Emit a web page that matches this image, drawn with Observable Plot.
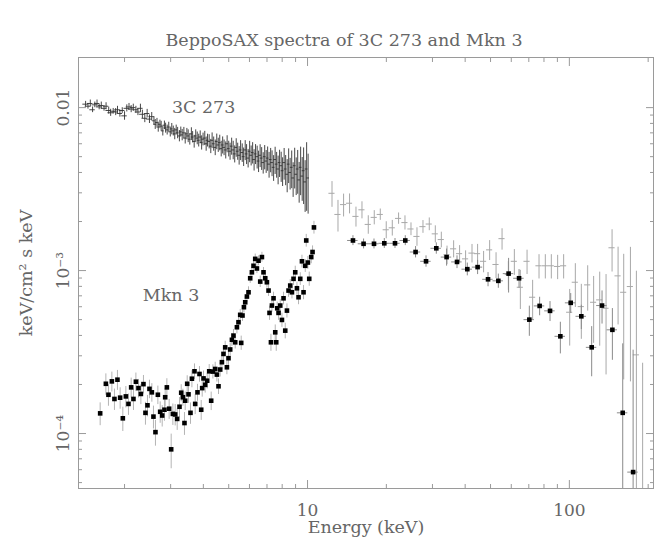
<!DOCTYPE html>
<html><head><meta charset="utf-8">
<script src="https://cdn.jsdelivr.net/npm/d3@7"></script>
<script src="https://cdn.jsdelivr.net/npm/@observablehq/plot@0.6"></script>
<style>
html,body{margin:0;padding:0;background:#fff;}
#chart svg{display:block;}
</style></head><body><div id="chart"></div>
<script>
// ---- text ----
const titleText = "BeppoSAX spectra of 3C 273 and Mkn 3";
const xLabel = "Energy (keV)";
const yLabel = "keV/cm² s keV";
const seriesLabels = ["3C 273", "Mkn 3"];
const seriesLabelE = [4.01, 3.01];
const seriesLabelF = [0.0101, 7.0e-4];

// ---- axes ----
const xRange = [1.334, 209.6];
const yRange = [4.6e-5, 0.0203];
const xMajor = [10, 100];
const xMajorLabels = ["10", "100"];
const xMinor = [2,3,4,5,6,7,8,9,20,30,40,50,60,70,80,90,200];
const yMajor = [1e-4, 1e-3, 1e-2];
const yMajorLabels = ["10⁻⁴", "10⁻³", "0.01"];
const yMinor = [5e-5,6e-5,7e-5,8e-5,9e-5,2e-4,3e-4,4e-4,5e-4,6e-4,7e-4,8e-4,9e-4,2e-3,3e-3,4e-3,5e-3,6e-3,7e-3,8e-3,9e-3];

// ---- 3C 273, low-energy dense part (keV, flux in 1e-3, error %) ----
const c273LowE = [1.42,1.45,1.48,1.51,1.54,1.57,1.60,1.63,1.67,1.70,1.74,1.77,1.81,1.85,1.88,1.92,1.96,2.00,2.04,2.08,2.12,2.16,2.21,2.25,2.30,2.34,2.39,2.44,2.49,2.54];
const c273LowF = [10.5,10.2,10.6,9.7,10.4,10.6,10.1,10.3,9.9,10.2,9.6,9.3,9.5,9.4,9.7,9.2,9.6,8.9,9.9,10.1,9.8,10.0,9.7,9.4,9.9,9.1,8.6,9.2,8.5,8.8];
const c273LowErr = [4,4,5,4,4,5,4,5,4,5,5,5,4,5,5,5,4,6,5,5,5,5,5,5,6,6,6,6,6,6];

const c273MidE = [2.59,2.62,2.66,2.69,2.73,2.76,2.80,2.84,2.87,2.91,
 2.95,2.99,3.03,3.07,3.11,3.15,3.19,3.24,3.28,3.32,
 3.37,3.41,3.46,3.50,3.55,3.60,3.64,3.69,3.74,3.79,
 3.84,3.89,3.94,3.99,4.05,4.10,4.15,4.21,4.27,4.32,
 4.38,4.44,4.50,4.56,4.62,4.68,4.74,4.80,4.87,4.93,
 5.00,5.06,5.13,5.20,5.27,5.34,5.41,5.48,5.55,5.63,
 5.70,5.78,5.85,5.93,6.01,6.09,6.17,6.25,6.33,6.42,
 6.50,6.59,6.68,6.77,6.86,6.95,7.04,7.13,7.23,7.32,
 7.42,7.52,7.62,7.72,7.82,7.93,8.03,8.14,8.25,8.36,
 8.47,8.58,8.70,8.81,8.93,9.05,9.17,9.29,9.41,9.54,
 9.66,9.79,9.92,10.05];
const c273MidF = [8.3,7.9,8.1,7.6,7.9,7.7,7.2,7.8,7.5,7.3,
 7.6,7.1,7.4,7.2,6.9,7.3,7.0,6.7,7.1,6.8,
 7.0,6.5,6.9,6.7,6.4,6.9,6.6,6.2,6.7,6.5,
 6.3,6.6,6.1,6.4,6.5,6.0,6.3,6.2,5.8,6.3,
 6.0,5.7,6.2,5.9,6.1,5.6,5.9,5.7,5.5,6.0,
 5.6,5.4,5.8,5.5,5.2,5.7,5.4,5.1,5.5,5.3,
 5.0,5.5,5.2,4.9,5.4,5.1,5.3,4.8,5.2,5.0,
 4.7,5.1,4.9,4.6,5.0,4.7,4.9,4.5,4.8,4.6,
 4.3,4.8,4.5,4.2,4.6,4.4,4.1,4.6,4.2,3.9,
 4.5,4.0,4.3,3.7,4.4,3.9,4.2,3.6,4.3,3.8,
 4.1,3.5,4.2,3.7];
const c273MidErr = [6,7,6,7,6,7,7,6,7,7,
 7,7,8,7,8,7,8,8,7,8,
 8,8,8,9,8,9,8,9,9,9,
 9,9,10,9,10,10,9,10,10,11,
 10,11,11,10,11,11,12,11,12,12,
 11,12,12,13,12,13,12,13,14,13,
 13,14,14,13,15,14,15,15,14,16,
 15,16,16,15,17,16,17,18,17,18,
 18,19,18,20,19,21,20,22,21,23,
 24,22,26,24,28,26,30,28,33,30,
 38,35,45,40];

// ---- 3C 273, high-energy part (keV, flux in 1e-3, error %) ----
const c273HighE = [12.40,13.07,13.73,14.47,15.31,16.14,17.06,17.98,18.96,19.98,
 21.07,22.27,23.56,24.84,26.18,27.60,29.17,30.76,32.43,34.10,
 36.14,38.09,40.15,42.48,44.62,47.04,49.61,52.48,55.33,58.48,
 61.65,64.99,68.93,72.40,76.58,80.95,85.33,90.22,95.10,100.3,
 105.4,111.1,117.5,123.8,130.6,138.1,145.6,153.5,161.3,171.1,
 180.3,190.5];
const c273HighF = [2.98,2.21,2.54,2.59,2.15,2.36,1.92,2.12,2.21,1.78,
 1.83,2.09,1.97,1.80,1.62,1.86,1.93,1.68,1.55,1.25,
 1.36,1.27,1.18,1.28,1.27,1.14,1.34,1.09,1.57,0.945,
 1.14,0.790,1.14,0.686,1.07,1.07,1.07,1.06,1.07,0.555,
 0.848,0.601,0.817,0.639,0.661,0.587,1.38,0.928,0.736,0.798,
 0.304,0.02];
const c273HighErr = [18,22,16,14,14,12,13,10,8,12,
 11,8,10,9,13,9,9,12,11,13,
 12,12,12,13,14,15,14,18,15,20,
 18,27,17,27,17,17,17,17,17,38,
 30,37,31,44,48,61,29,50,71,74,
 226,1250];

// ---- Mkn 3, dense part (keV, flux in 1e-4, error %) ----
const mkn3LowE = [1.614,1.697,1.736,1.789,1.830,1.879,1.924,1.970,2.023,2.070,
 2.120,2.163,2.210,2.261,2.309,2.362,2.404,2.447,2.490,2.543,
 2.579,2.625,2.681,2.736,2.785,2.841,2.859,2.902,2.961,3.014,
 3.059,3.122,3.178,3.243,3.292,3.341,3.388,3.409,3.470,3.510,
 3.572,3.617,3.700,3.723,3.799,3.866,3.925,3.959,4.005,4.065,
 4.137,4.211,4.285,4.350,4.439,4.506,4.570,4.639,4.709,4.775,
 4.847,4.920,4.990,5.065,5.142,5.214,5.293,5.373,5.449,5.531,
 5.580,5.644,5.715,5.780,5.867,5.951,6.039,6.130,6.218,6.312,
 6.406,6.498,6.596,6.695,6.789,6.891,6.995,7.096,7.158,7.248,
 7.311,7.415,7.527,7.593,7.660,7.749,7.866,7.984,8.097,8.219,
 8.343,8.461,8.588,8.718,8.841,8.974,9.110,9.239,9.379,9.520,
 9.654,9.799,9.886,10.03,10.15,10.33,10.45,10.58];
const mkn3LowF = [1.33,2.02,1.73,2.09,1.63,2.14,1.66,1.24,1.69,1.52,
 1.92,1.63,2.08,1.90,1.75,2.01,1.34,1.49,1.88,1.79,
 1.27,1.02,1.73,1.36,1.29,1.40,1.67,1.92,1.42,0.80,
 1.32,1.31,1.23,1.46,1.78,1.67,1.16,1.59,2.02,1.74,
 1.34,2.17,2.41,1.52,1.79,2.32,1.40,1.90,2.18,1.99,
 2.11,2.41,1.59,2.40,2.49,2.30,1.95,2.47,2.74,3.08,
 3.38,2.55,2.90,3.28,3.76,3.99,3.63,4.49,4.82,5.35,
 3.60,5.30,5.96,6.39,6.93,7.36,8.97,9.76,10.7,11.8,
 10.3,11.5,8.56,12.1,9.76,8.97,8.48,7.54,5.50,3.63,
 6.10,6.76,4.18,3.63,5.87,5.50,6.10,4.98,6.76,4.28,
 5.68,7.54,8.09,7.36,8.90,9.76,7.79,6.86,8.90,11.4,
 7.36,10.7,15.3,11.2,8.90,12.1,13.0,18.4];
const mkn3LowErr = [16,15,15,14,15,14,15,17,15,15,
 14,15,13,13,14,13,16,15,13,13,
 16,18,13,15,15,15,13,13,14,24,
 15,15,15,14,12,12,16,13,12,12,
 15,12,11,14,12,11,14,12,11,11,
 11,10,13,10,10,10,11,10,10,10,
 9,10,10,9,9,9,9,9,9,8,
 10,8,8,8,8,8,7,7,7,7,
 7,7,8,7,7,8,8,8,10,12,
 9,9,11,12,9,10,9,10,9,11,
 10,9,9,9,9,9,9,10,9,9,
 10,9,9,9,10,9,9,9];

// ---- Mkn 3, high-energy part (keV, flux in 1e-3, error %) ----
const mkn3HighE = [14.91,16.37,17.94,19.64,21.58,23.62,25.86,28.35,31.03,33.97,
 37.23,40.76,44.62,48.91,53.55,58.61,64.25,70.33,77.00,84.37,
 92.39,101.2,111.1,121.7,133.3,146.0,159.9,175.2];
const mkn3HighF = [1.53,1.46,1.46,1.47,1.47,1.53,1.30,1.14,1.37,1.21,
 1.13,1.02,1.05,0.884,0.865,0.958,0.897,0.500,0.607,0.566,
 0.395,0.634,0.524,0.338,0.610,0.433,0.134,0.058];
const mkn3HighErr = [7,7,7,7,7,7,8,8,8,12,
 9,9,10,10,10,24,13,21,13,14,
 22,14,17,34,23,35,165,460];

// fractional half-width of the energy bins
const binLECS = 0.024, binMECS = 0.012, binC273High = 0.027, binMkn3High = 0.046;

function rows(E, F, unit, err, bin) {
  return E.map((e, i) => {
    const f = F[i] * unit, d = f * err[i] / 100;
    return {E: e, F: f, lo: Math.max(f - d, 1e-8), hi: f + d, El: e * (1 - bin), Eh: e * (1 + bin)};
  });
}
const c273Low = rows(c273LowE, c273LowF, 1e-3, c273LowErr, binLECS);
const c273Mid = rows(c273MidE, c273MidF, 1e-3, c273MidErr, binMECS);
const c273High = rows(c273HighE, c273HighF, 1e-3, c273HighErr, binC273High);
const mkn3Low = rows(mkn3LowE, mkn3LowF, 1e-4, mkn3LowErr, 0);
const mkn3High = rows(mkn3HighE, mkn3HighF, 1e-3, mkn3HighErr, binMkn3High);
const c273Dense = c273Low.concat(c273Mid);
const labels = seriesLabels.map((t, i) => ({t, E: seriesLabelE[i], F: seriesLabelF[i]}));

const font = "DejaVu Serif";
const txt = "#666";
const axisGray = "#9a9a9a";

const errX = (data, stroke, sw) => Plot.ruleX(data, {x: "E", y1: "lo", y2: "hi", stroke, strokeWidth: sw, clip: true});
const errY = (data, stroke, sw) => Plot.ruleY(data, {y: "F", x1: "El", x2: "Eh", stroke, strokeWidth: sw, clip: true});

const chart = Plot.plot({
  width: 654, height: 540,
  marginLeft: 78, marginRight: 1, marginTop: 57, marginBottom: 52,
  style: {fontFamily: font, background: "#fff", color: txt},
  x: {type: "log", domain: xRange},
  y: {type: "log", domain: yRange},
  marks: [
    // data
    errX(c273High, "#a8a8a8", 1), errY(c273High, "#a8a8a8", 1),
    errX(mkn3Low, "#b4b4b4", 1),
    errX(mkn3High, "#8a8a8a", 1), errY(mkn3High, "#8a8a8a", 1),
    errX(c273Dense, "#333", 0.9), errY(c273Dense, "#333", 0.9),
    Plot.dot(mkn3Low, {x: "E", y: "F", symbol: "square", fill: "#000", r: 2.6, clip: true}),
    Plot.dot(mkn3High, {x: "E", y: "F", symbol: "square", fill: "#000", r: 2.6, clip: true}),
    // frame and ticks
    Plot.frame({stroke: axisGray}),
    Plot.axisX(xMajor, {anchor: "bottom", tickSize: -8, stroke: axisGray, fill: "none", label: null}),
    Plot.axisX(xMinor, {anchor: "bottom", tickSize: -4, stroke: axisGray, fill: "none", label: null}),
    Plot.axisX(xMajor, {anchor: "top", tickSize: -8, stroke: axisGray, fill: "none", label: null}),
    Plot.axisX(xMinor, {anchor: "top", tickSize: -4, stroke: axisGray, fill: "none", label: null}),
    Plot.axisY(yMajor, {anchor: "left", tickSize: -8, stroke: axisGray, fill: "none", label: null}),
    Plot.axisY(yMinor, {anchor: "left", tickSize: -4, stroke: axisGray, fill: "none", label: null}),
    Plot.axisY(yMajor, {anchor: "right", tickSize: -8, stroke: axisGray, fill: "none", label: null}),
    Plot.axisY(yMinor, {anchor: "right", tickSize: -4, stroke: axisGray, fill: "none", label: null}),
    // tick labels
    Plot.text(xMajor, {x: d => d, text: (d, i) => xMajorLabels[i], frameAnchor: "bottom", dy: 22, lineAnchor: "middle", fontSize: 17, fill: txt}),
    Plot.text(yMajor, {y: d => d, text: (d, i) => yMajorLabels[i], frameAnchor: "left", dx: -10, rotate: -90, textAnchor: "middle", lineAnchor: "bottom", fontSize: 17, fill: txt}),
    // axis titles
    Plot.text([xLabel], {frameAnchor: "bottom", dy: 39, lineAnchor: "middle", fontSize: 17.5, fill: txt}),
    Plot.text([yLabel], {frameAnchor: "left", dx: -52, rotate: -90, textAnchor: "middle", fontSize: 17.5, fill: txt}),
    Plot.text([titleText], {frameAnchor: "top", dx: -22, dy: -17, lineAnchor: "middle", fontSize: 17.5, fill: txt}),
    // series labels
    Plot.text(labels, {x: "E", y: "F", text: "t", fontSize: 17.5, fill: txt})
  ]
});
document.getElementById("chart").appendChild(chart);
</script></body></html>
